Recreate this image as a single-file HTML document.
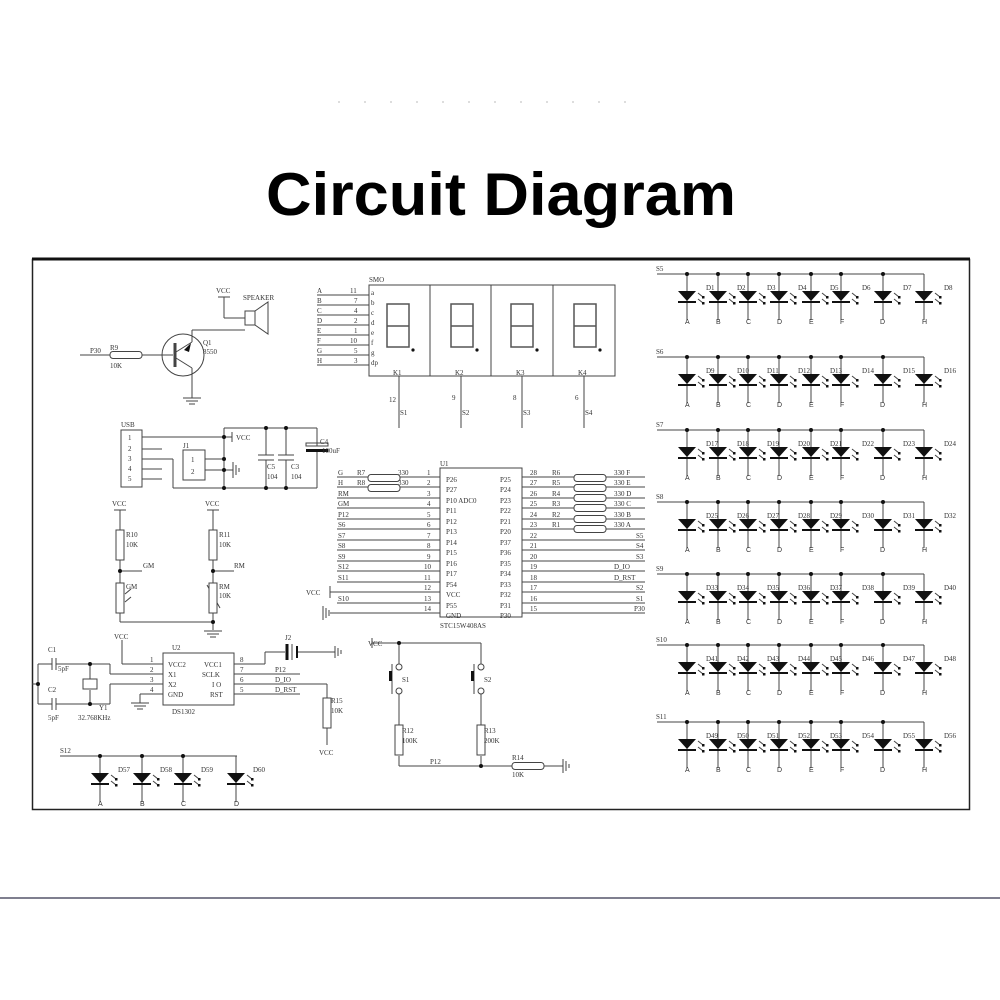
<!DOCTYPE html>
<html><head><meta charset="utf-8"><style>
html,body{margin:0;padding:0;background:#fff;}
svg{display:block;}
.t{font-family:"Liberation Serif",serif;font-size:7px;fill:#333;}
.s{font-family:"Liberation Sans",sans-serif;font-size:7px;fill:#333;}
</style></head><body>
<svg width="1000" height="1000" viewBox="0 0 1000 1000" xmlns="http://www.w3.org/2000/svg">
<defs>
<g id="led">
 <line x1="0" y1="0" x2="0" y2="46" stroke="#444" stroke-width="1"/>
 <polygon points="-9,17 9,17 0,27" fill="#111"/>
 <line x1="-9" y1="28" x2="9" y2="28" stroke="#111" stroke-width="2"/>
 <line x1="11" y1="19" x2="16" y2="23" stroke="#444"/><rect x="15" y="22" width="2.5" height="2.5" fill="#111"/>
 <line x1="11" y1="25" x2="16" y2="29" stroke="#444"/><rect x="15" y="28" width="2.5" height="2.5" fill="#111"/>
</g>
<g id="ledrow">
 <line x1="0" y1="0" x2="267" y2="0" stroke="#444"/>
 <line x1="267" y1="0" x2="267" y2="6" stroke="#444"/>
 <use href="#led" x="30" y="0"/><use href="#led" x="61" y="0"/><use href="#led" x="91" y="0"/><use href="#led" x="122" y="0"/>
 <use href="#led" x="154" y="0"/><use href="#led" x="184" y="0"/><use href="#led" x="226" y="0"/><use href="#led" x="267" y="0"/>
 <g fill="#111"><circle cx="30" cy="0" r="2"/><circle cx="61" cy="0" r="2"/><circle cx="91" cy="0" r="2"/><circle cx="122" cy="0" r="2"/><circle cx="154" cy="0" r="2"/><circle cx="184" cy="0" r="2"/><circle cx="226" cy="0" r="2"/></g>
</g>
<g id="gnd"><line x1="-9" y1="0" x2="9" y2="0" stroke="#444"/><line x1="-6" y1="3" x2="6" y2="3" stroke="#444"/><line x1="-3" y1="6" x2="3" y2="6" stroke="#444"/></g>
<g id="rv"><rect x="-4" y="0" width="8" height="30" fill="#fff" stroke="#444"/></g>
<g id="rh"><rect x="0" y="-3.5" width="32" height="7" rx="3" fill="#fff" stroke="#444"/></g>
<g id="digit"><rect x="0" y="0" width="22" height="43" fill="none" stroke="#555" stroke-width="1.5"/><line x1="0" y1="22" x2="22" y2="22" stroke="#555" stroke-width="1.5"/><circle cx="26" cy="46" r="1.6" fill="#111"/></g>
</defs>

<!-- faint dots -->
<g fill="#ddd"><rect x="338" y="101" width="2" height="2"/><rect x="364" y="101" width="2" height="2"/><rect x="390" y="101" width="2" height="2"/><rect x="416" y="101" width="2" height="2"/><rect x="442" y="101" width="2" height="2"/><rect x="468" y="101" width="2" height="2"/><rect x="494" y="101" width="2" height="2"/><rect x="520" y="101" width="2" height="2"/><rect x="546" y="101" width="2" height="2"/><rect x="572" y="101" width="2" height="2"/><rect x="598" y="101" width="2" height="2"/><rect x="624" y="101" width="2" height="2"/></g>

<text x="501" y="215" text-anchor="middle" font-family="Liberation Sans, sans-serif" font-weight="bold" font-size="60" textLength="470" lengthAdjust="spacingAndGlyphs" fill="#000">Circuit Diagram</text>

<!-- frame -->
<rect x="32.5" y="259.5" width="937" height="550" fill="none" stroke="#222" stroke-width="1.5"/>
<line x1="32" y1="259" x2="970" y2="259" stroke="#111" stroke-width="3"/>
<line x1="0" y1="898" x2="1000" y2="898" stroke="#55556a" stroke-width="1.5"/>

<g stroke="#444" fill="none">
<!-- speaker / transistor -->
<line x1="224" y1="297" x2="224" y2="318"/><line x1="218" y1="297" x2="230" y2="297"/>
<line x1="224" y1="318" x2="245" y2="318"/>
<rect x="245" y="311" width="10" height="14"/><polygon points="255,311 268,302 268,334 255,325"/>
<line x1="192" y1="330" x2="245" y2="330"/><line x1="192" y1="330" x2="192" y2="342"/>
<circle cx="183" cy="355" r="21"/>
<line x1="175" y1="343" x2="175" y2="367" stroke-width="3"/>
<line x1="176" y1="352" x2="192" y2="342"/><line x1="176" y1="358" x2="192" y2="368"/>
<line x1="80" y1="355" x2="110" y2="355"/><use href="#rh" x="110" y="355"/><line x1="142" y1="355" x2="173" y2="355"/>
<line x1="192" y1="368" x2="192" y2="398"/>
</g>
<polygon points="184,350 191,343 189,352" fill="#111"/>
<use href="#gnd" x="192" y="398"/>
<text class="t" x="216" y="293">VCC</text><text class="t" x="243" y="300">SPEAKER</text>
<text class="t" x="203" y="345">Q1</text><text class="t" x="203" y="354">8550</text>
<text class="t" x="90" y="353">P30</text><text class="t" x="110" y="350">R9</text><text class="t" x="110" y="368">10K</text>

<!-- USB section -->
<g stroke="#444" fill="none">
<rect x="121" y="430" width="21" height="57"/>
<line x1="142" y1="437" x2="224" y2="437"/><line x1="142" y1="449" x2="162" y2="449"/>
<line x1="142" y1="459" x2="173" y2="459"/><line x1="173" y1="459" x2="173" y2="488"/>
<line x1="142" y1="469" x2="162" y2="469"/><line x1="142" y1="479" x2="162" y2="479"/>
<rect x="183" y="450" width="22" height="30"/>
<line x1="205" y1="459" x2="224" y2="459"/><line x1="205" y1="470" x2="224" y2="470"/>
<line x1="224" y1="428" x2="224" y2="488"/>
<line x1="224" y1="428" x2="317" y2="428"/><line x1="173" y1="488" x2="317" y2="488"/>
<line x1="317" y1="428" x2="317" y2="446"/><line x1="317" y1="452" x2="317" y2="488"/>
<line x1="266" y1="428" x2="266" y2="455"/><line x1="266" y1="460" x2="266" y2="488"/>
<line x1="286" y1="428" x2="286" y2="455"/><line x1="286" y1="460" x2="286" y2="488"/>
<line x1="258" y1="455" x2="274" y2="455"/><line x1="258" y1="460" x2="274" y2="460"/>
<line x1="278" y1="455" x2="294" y2="455"/><line x1="278" y1="460" x2="294" y2="460"/>
<rect x="306" y="443" width="22" height="3"/>
<line x1="232" y1="432" x2="232" y2="442"/><line x1="224" y1="437" x2="232" y2="437"/>
<line x1="224" y1="470" x2="233" y2="470"/><line x1="233" y1="462" x2="233" y2="478"/><line x1="236" y1="465" x2="236" y2="475"/><line x1="239" y1="468" x2="239" y2="472"/>
</g>
<rect x="306" y="449" width="22" height="3" fill="#111"/>
<g fill="#111"><circle cx="224" cy="437" r="2"/><circle cx="224" cy="459" r="2"/><circle cx="224" cy="470" r="2"/><circle cx="224" cy="488" r="2"/><circle cx="266" cy="428" r="2"/><circle cx="286" cy="428" r="2"/><circle cx="266" cy="488" r="2"/><circle cx="286" cy="488" r="2"/></g>
<text class="t" x="121" y="427">USB</text>
<text class="t" x="128" y="440">1</text><text class="t" x="128" y="451">2</text><text class="t" x="128" y="461">3</text><text class="t" x="128" y="471">4</text><text class="t" x="128" y="481">5</text>
<text class="t" x="183" y="448">J1</text><text class="t" x="191" y="462">1</text><text class="t" x="191" y="474">2</text>
<text class="t" x="236" y="440">VCC</text><text class="t" x="267" y="469">C5</text><text class="t" x="267" y="479">104</text>
<text class="t" x="291" y="469">C3</text><text class="t" x="291" y="479">104</text>
<text class="t" x="320" y="444">C4</text><text class="t" x="322" y="453">100uF</text>

<!-- R10 R11 GM RM -->
<g stroke="#444" fill="none">
<line x1="114" y1="510" x2="126" y2="510"/><line x1="120" y1="510" x2="120" y2="530"/>
<line x1="207" y1="510" x2="219" y2="510"/><line x1="213" y1="510" x2="213" y2="530"/>
<line x1="120" y1="560" x2="120" y2="583"/><line x1="213" y1="560" x2="213" y2="583"/>
<line x1="120" y1="571" x2="142" y2="571"/><line x1="213" y1="571" x2="234" y2="571"/>
<line x1="120" y1="613" x2="120" y2="622"/><line x1="213" y1="613" x2="213" y2="630"/>
<line x1="120" y1="622" x2="213" y2="622"/>
<line x1="207" y1="585" x2="220" y2="608"/>
<line x1="125" y1="594" x2="131" y2="589"/><line x1="125" y1="602" x2="131" y2="597"/>
</g>
<use href="#rv" x="120" y="530"/><use href="#rv" x="213" y="530"/>
<use href="#rv" x="120" y="583"/><use href="#rv" x="213" y="583"/>
<g fill="#111"><circle cx="120" cy="571" r="2"/><circle cx="213" cy="571" r="2"/><circle cx="213" cy="622" r="2"/></g>
<use href="#gnd" x="213" y="631"/>
<text class="t" x="112" y="506">VCC</text><text class="t" x="205" y="506">VCC</text>
<text class="t" x="126" y="537">R10</text><text class="t" x="126" y="547">10K</text>
<text class="t" x="219" y="537">R11</text><text class="t" x="219" y="547">10K</text>
<text class="t" x="143" y="568">GM</text><text class="t" x="234" y="568">RM</text>
<text class="t" x="126" y="589">GM</text><text class="t" x="219" y="589">RM</text><text class="t" x="219" y="598">10K</text>

<!-- DS1302 -->
<g stroke="#444" fill="none">
<rect x="163" y="653" width="71" height="52"/>
<line x1="122" y1="640" x2="122" y2="664"/><line x1="122" y1="664" x2="163" y2="664"/>
<line x1="38" y1="664" x2="52" y2="664"/><line x1="56" y1="664" x2="90" y2="664"/>
<line x1="52" y1="658" x2="52" y2="670"/><line x1="56" y1="658" x2="56" y2="670"/>
<line x1="38" y1="704" x2="52" y2="704"/><line x1="56" y1="704" x2="90" y2="704"/>
<line x1="52" y1="698" x2="52" y2="710"/><line x1="56" y1="698" x2="56" y2="710"/>
<line x1="38" y1="664" x2="38" y2="704"/><line x1="32" y1="684" x2="38" y2="684"/>
<line x1="90" y1="664" x2="90" y2="679"/><line x1="90" y1="690" x2="90" y2="704"/>
<rect x="83" y="679" width="14" height="10"/>
<line x1="90" y1="664" x2="110" y2="664"/><line x1="110" y1="664" x2="110" y2="674"/><line x1="110" y1="674" x2="163" y2="674"/>
<line x1="90" y1="704" x2="110" y2="704"/><line x1="110" y1="704" x2="110" y2="684"/><line x1="110" y1="684" x2="163" y2="684"/>
<line x1="140" y1="694" x2="163" y2="694"/><line x1="140" y1="694" x2="140" y2="703"/>
<line x1="234" y1="664" x2="265" y2="664"/><line x1="265" y1="664" x2="265" y2="652"/><line x1="265" y1="652" x2="285" y2="652"/>
<line x1="298" y1="652" x2="335" y2="652"/>
<line x1="234" y1="674" x2="300" y2="674"/><line x1="234" y1="684" x2="327" y2="684"/><line x1="234" y1="694" x2="300" y2="694"/>
<line x1="327" y1="684" x2="327" y2="698"/><line x1="327" y1="728" x2="327" y2="745"/>
<line x1="335" y1="646" x2="335" y2="658"/><line x1="338" y1="648" x2="338" y2="656"/><line x1="341" y1="650" x2="341" y2="654"/>
</g>
<line x1="287" y1="644" x2="287" y2="660" stroke="#111" stroke-width="3"/><line x1="292" y1="644" x2="292" y2="660" stroke="#444"/><line x1="297" y1="646" x2="297" y2="658" stroke="#111" stroke-width="2"/>
<use href="#rv" x="327" y="698"/>
<use href="#gnd" x="140" y="703"/>
<g fill="#111"><circle cx="38" cy="684" r="2"/><circle cx="90" cy="664" r="2"/><circle cx="90" cy="704" r="2"/></g>
<text class="t" x="114" y="639">VCC</text><text class="t" x="48" y="652">C1</text><text class="t" x="58" y="671">5pF</text>
<text class="t" x="48" y="692">C2</text><text class="t" x="48" y="720">5pF</text>
<text class="t" x="99" y="710">Y1</text><text class="t" x="78" y="720">32.768KHz</text>
<text class="t" x="172" y="650">U2</text><text class="t" x="172" y="714">DS1302</text>
<text class="t" x="150" y="662">1</text><text class="t" x="150" y="672">2</text><text class="t" x="150" y="682">3</text><text class="t" x="150" y="692">4</text>
<text class="t" x="168" y="667">VCC2</text><text class="t" x="168" y="677">X1</text><text class="t" x="168" y="687">X2</text><text class="t" x="168" y="697">GND</text>
<text class="t" x="204" y="667">VCC1</text><text class="t" x="202" y="677">SCLK</text><text class="t" x="212" y="687">I O</text><text class="t" x="210" y="697">RST</text>
<text class="t" x="240" y="662">8</text><text class="t" x="240" y="672">7</text><text class="t" x="240" y="682">6</text><text class="t" x="240" y="692">5</text>
<text class="t" x="285" y="640">J2</text><text class="t" x="275" y="672">P12</text><text class="t" x="275" y="682">D_IO</text><text class="t" x="275" y="692">D_RST</text>
<text class="t" x="331" y="703">R15</text><text class="t" x="331" y="713">10K</text><text class="t" x="319" y="755">VCC</text>

<!-- S12 LEDs -->
<g stroke="#444"><line x1="60" y1="756" x2="237" y2="756"/></g>
<use href="#led" x="100" y="756"/><use href="#led" x="142" y="756"/><use href="#led" x="183" y="756"/><use href="#led" x="236" y="756"/>
<g fill="#111"><circle cx="100" cy="756" r="2"/><circle cx="142" cy="756" r="2"/><circle cx="183" cy="756" r="2"/></g>
<text class="t" x="60" y="753">S12</text>
<text class="t" x="118" y="772">D57</text><text class="t" x="160" y="772">D58</text><text class="t" x="201" y="772">D59</text><text class="t" x="253" y="772">D60</text>
<text class="s" x="98" y="806">A</text><text class="s" x="140" y="806">B</text><text class="s" x="181" y="806">C</text><text class="s" x="234" y="806">D</text>

<!-- switches -->
<g stroke="#444" fill="none">
<line x1="372" y1="643" x2="481" y2="643"/><line x1="372" y1="638" x2="372" y2="648"/>
<line x1="399" y1="643" x2="399" y2="664"/><line x1="481" y1="643" x2="481" y2="664"/>
<circle cx="399" cy="667" r="3"/><circle cx="399" cy="691" r="3"/>
<circle cx="481" cy="667" r="3"/><circle cx="481" cy="691" r="3"/>
<line x1="392" y1="664" x2="392" y2="694"/><line x1="474" y1="664" x2="474" y2="694"/>
<line x1="399" y1="694" x2="399" y2="725"/><line x1="481" y1="694" x2="481" y2="725"/>
<line x1="399" y1="756" x2="399" y2="766"/><line x1="481" y1="756" x2="481" y2="766"/>
<line x1="399" y1="766" x2="512" y2="766"/><line x1="544" y1="766" x2="563" y2="766"/>
<line x1="563" y1="759" x2="563" y2="773"/><line x1="566" y1="761" x2="566" y2="771"/><line x1="569" y1="764" x2="569" y2="768"/>
</g>
<rect x="389" y="671" width="3" height="10" fill="#111"/><rect x="471" y="671" width="3" height="10" fill="#111"/>
<use href="#rv" x="399" y="725"/><use href="#rv" x="481" y="725"/><use href="#rh" x="512" y="766"/>
<g fill="#111"><circle cx="399" cy="643" r="2"/><circle cx="481" cy="766" r="2"/></g>
<text class="t" x="368" y="646">VCC</text><text class="t" x="402" y="682">S1</text><text class="t" x="484" y="682">S2</text>
<text class="t" x="402" y="733">R12</text><text class="t" x="402" y="743">100K</text>
<text class="t" x="484" y="733">R13</text><text class="t" x="484" y="743">200K</text>
<text class="t" x="430" y="764">P12</text><text class="t" x="512" y="760">R14</text><text class="t" x="512" y="777">10K</text>

<!-- 7-seg display -->
<g stroke="#444" fill="none">
<rect x="369" y="285" width="246" height="91"/>
<line x1="430" y1="285" x2="430" y2="376"/><line x1="491" y1="285" x2="491" y2="376"/><line x1="553" y1="285" x2="553" y2="376"/>
<line x1="317" y1="295" x2="369" y2="295"/><line x1="317" y1="305" x2="369" y2="305"/><line x1="317" y1="315" x2="369" y2="315"/><line x1="317" y1="325" x2="369" y2="325"/>
<line x1="317" y1="335" x2="369" y2="335"/><line x1="317" y1="345" x2="369" y2="345"/><line x1="317" y1="355" x2="369" y2="355"/><line x1="317" y1="365" x2="369" y2="365"/>
<line x1="399" y1="376" x2="399" y2="428"/><line x1="461" y1="376" x2="461" y2="428"/><line x1="522" y1="376" x2="522" y2="428"/><line x1="584" y1="376" x2="584" y2="428"/>
</g>
<use href="#digit" x="387" y="304"/><use href="#digit" x="451" y="304"/><use href="#digit" x="511" y="304"/><use href="#digit" x="574" y="304"/>
<text class="t" x="369" y="282">SMO</text>
<text class="t" x="317" y="293">A</text><text class="t" x="317" y="303">B</text><text class="t" x="317" y="313">C</text><text class="t" x="317" y="323">D</text><text class="t" x="317" y="333">E</text><text class="t" x="317" y="343">F</text><text class="t" x="317" y="353">G</text><text class="t" x="317" y="363">H</text>
<text class="t" x="350" y="293">11</text><text class="t" x="354" y="303">7</text><text class="t" x="354" y="313">4</text><text class="t" x="354" y="323">2</text><text class="t" x="354" y="333">1</text><text class="t" x="350" y="343">10</text><text class="t" x="354" y="353">5</text><text class="t" x="354" y="363">3</text>
<text class="t" x="371" y="295">a</text><text class="t" x="371" y="305">b</text><text class="t" x="371" y="315">c</text><text class="t" x="371" y="325">d</text><text class="t" x="371" y="335">e</text><text class="t" x="371" y="345">f</text><text class="t" x="371" y="355">g</text><text class="t" x="371" y="365">dp</text>
<text class="t" x="393" y="375">K1</text><text class="t" x="455" y="375">K2</text><text class="t" x="516" y="375">K3</text><text class="t" x="578" y="375">K4</text>
<text class="t" x="389" y="402">12</text><text class="t" x="452" y="400">9</text><text class="t" x="513" y="400">8</text><text class="t" x="575" y="400">6</text>
<text class="t" x="400" y="415">S1</text><text class="t" x="462" y="415">S2</text><text class="t" x="523" y="415">S3</text><text class="t" x="585" y="415">S4</text>

<!-- U1 -->
<g stroke="#444" fill="none">
<rect x="440" y="468" width="82" height="149"/>
<line x1="337" y1="477" x2="440" y2="477"/><line x1="337" y1="487" x2="440" y2="487"/><line x1="337" y1="498" x2="440" y2="498"/><line x1="337" y1="508" x2="440" y2="508"/>
<line x1="337" y1="519" x2="440" y2="519"/><line x1="337" y1="529" x2="440" y2="529"/><line x1="337" y1="540" x2="440" y2="540"/><line x1="337" y1="550" x2="440" y2="550"/>
<line x1="337" y1="561" x2="440" y2="561"/><line x1="337" y1="571" x2="440" y2="571"/><line x1="337" y1="582" x2="440" y2="582"/><line x1="330" y1="592" x2="440" y2="592"/>
<line x1="337" y1="603" x2="440" y2="603"/><line x1="330" y1="613" x2="440" y2="613"/>
<line x1="522" y1="477" x2="645" y2="477"/><line x1="522" y1="487" x2="645" y2="487"/><line x1="522" y1="498" x2="645" y2="498"/><line x1="522" y1="508" x2="645" y2="508"/>
<line x1="522" y1="519" x2="645" y2="519"/><line x1="522" y1="529" x2="645" y2="529"/><line x1="522" y1="540" x2="645" y2="540"/><line x1="522" y1="550" x2="645" y2="550"/>
<line x1="522" y1="561" x2="645" y2="561"/><line x1="522" y1="571" x2="645" y2="571"/><line x1="522" y1="582" x2="645" y2="582"/><line x1="522" y1="592" x2="645" y2="592"/>
<line x1="522" y1="603" x2="645" y2="603"/><line x1="522" y1="613" x2="645" y2="613"/>
<line x1="330" y1="586" x2="330" y2="598"/>
<line x1="323" y1="606" x2="323" y2="620"/><line x1="326" y1="608" x2="326" y2="618"/><line x1="329" y1="610" x2="329" y2="616"/>
</g>
<use href="#rh" x="368" y="478"/><use href="#rh" x="368" y="488"/>
<use href="#rh" x="574" y="478"/><use href="#rh" x="574" y="488"/><use href="#rh" x="574" y="498"/><use href="#rh" x="574" y="508"/><use href="#rh" x="574" y="519"/><use href="#rh" x="574" y="529"/>
<text class="t" x="440" y="466">U1</text><text class="t" x="440" y="628">STC15W408AS</text>
<g class="t">
<text class="t" x="338" y="475">G</text><text class="t" x="357" y="475">R7</text><text class="t" x="398" y="475">330</text>
<text class="t" x="338" y="485">H</text><text class="t" x="357" y="485">R8</text><text class="t" x="398" y="485">330</text>
<text class="t" x="338" y="496">RM</text><text class="t" x="338" y="506">GM</text><text class="t" x="338" y="517">P12</text><text class="t" x="338" y="527">S6</text><text class="t" x="338" y="538">S7</text><text class="t" x="338" y="548">S8</text><text class="t" x="338" y="559">S9</text><text class="t" x="338" y="569">S12</text><text class="t" x="338" y="580">S11</text><text class="t" x="338" y="601">S10</text>
<text class="t" x="306" y="595">VCC</text>
<text class="t" x="427" y="475">1</text><text class="t" x="427" y="485">2</text><text class="t" x="427" y="496">3</text><text class="t" x="427" y="506">4</text><text class="t" x="427" y="517">5</text><text class="t" x="427" y="527">6</text><text class="t" x="427" y="538">7</text><text class="t" x="427" y="548">8</text><text class="t" x="427" y="559">9</text><text class="t" x="424" y="569">10</text><text class="t" x="424" y="580">11</text><text class="t" x="424" y="590">12</text><text class="t" x="424" y="601">13</text><text class="t" x="424" y="611">14</text>
<text class="t" x="446" y="482">P26</text><text class="t" x="446" y="492">P27</text><text class="t" x="446" y="503">P10 ADC0</text><text class="t" x="446" y="513">P11</text><text class="t" x="446" y="524">P12</text><text class="t" x="446" y="534">P13</text><text class="t" x="446" y="545">P14</text><text class="t" x="446" y="555">P15</text><text class="t" x="446" y="566">P16</text><text class="t" x="446" y="576">P17</text><text class="t" x="446" y="587">P54</text><text class="t" x="446" y="597">VCC</text><text class="t" x="446" y="608">P55</text><text class="t" x="446" y="618">GND</text>
<text class="t" x="500" y="482">P25</text><text class="t" x="500" y="492">P24</text><text class="t" x="500" y="503">P23</text><text class="t" x="500" y="513">P22</text><text class="t" x="500" y="524">P21</text><text class="t" x="500" y="534">P20</text><text class="t" x="500" y="545">P37</text><text class="t" x="500" y="555">P36</text><text class="t" x="500" y="566">P35</text><text class="t" x="500" y="576">P34</text><text class="t" x="500" y="587">P33</text><text class="t" x="500" y="597">P32</text><text class="t" x="500" y="608">P31</text><text class="t" x="500" y="618">P30</text>
<text class="t" x="530" y="475">28</text><text class="t" x="530" y="485">27</text><text class="t" x="530" y="496">26</text><text class="t" x="530" y="506">25</text><text class="t" x="530" y="517">24</text><text class="t" x="530" y="527">23</text><text class="t" x="530" y="538">22</text><text class="t" x="530" y="548">21</text><text class="t" x="530" y="559">20</text><text class="t" x="530" y="569">19</text><text class="t" x="530" y="580">18</text><text class="t" x="530" y="590">17</text><text class="t" x="530" y="601">16</text><text class="t" x="530" y="611">15</text>
<text class="t" x="552" y="475">R6</text><text class="t" x="552" y="485">R5</text><text class="t" x="552" y="496">R4</text><text class="t" x="552" y="506">R3</text><text class="t" x="552" y="517">R2</text><text class="t" x="552" y="527">R1</text>
<text class="t" x="614" y="475">330 F</text><text class="t" x="614" y="485">330 E</text><text class="t" x="614" y="496">330 D</text><text class="t" x="614" y="506">330 C</text><text class="t" x="614" y="517">330 B</text><text class="t" x="614" y="527">330 A</text>
<text class="t" x="636" y="538">S5</text><text class="t" x="636" y="548">S4</text><text class="t" x="636" y="559">S3</text><text class="t" x="614" y="569">D_IO</text><text class="t" x="614" y="580">D_RST</text><text class="t" x="636" y="590">S2</text><text class="t" x="636" y="601">S1</text><text class="t" x="634" y="611">P30</text>
</g>

<!-- LED matrix -->
<use href="#ledrow" x="657" y="274"/><use href="#ledrow" x="657" y="357"/><use href="#ledrow" x="657" y="430"/><use href="#ledrow" x="657" y="502"/>
<use href="#ledrow" x="657" y="574"/><use href="#ledrow" x="657" y="645"/><use href="#ledrow" x="657" y="722"/>
<text class="t" x="656" y="271">S5</text><text class="t" x="656" y="354">S6</text><text class="t" x="656" y="427">S7</text><text class="t" x="656" y="499">S8</text><text class="t" x="656" y="571">S9</text><text class="t" x="656" y="642">S10</text><text class="t" x="656" y="719">S11</text>

<g class="t">
<text class="t" x="706" y="290">D1</text><text class="t" x="737" y="290">D2</text><text class="t" x="767" y="290">D3</text><text class="t" x="798" y="290">D4</text><text class="t" x="830" y="290">D5</text><text class="t" x="862" y="290">D6</text><text class="t" x="903" y="290">D7</text><text class="t" x="944" y="290">D8</text>
<text class="t" x="706" y="373">D9</text><text class="t" x="737" y="373">D10</text><text class="t" x="767" y="373">D11</text><text class="t" x="798" y="373">D12</text><text class="t" x="830" y="373">D13</text><text class="t" x="862" y="373">D14</text><text class="t" x="903" y="373">D15</text><text class="t" x="944" y="373">D16</text>
<text class="t" x="706" y="446">D17</text><text class="t" x="737" y="446">D18</text><text class="t" x="767" y="446">D19</text><text class="t" x="798" y="446">D20</text><text class="t" x="830" y="446">D21</text><text class="t" x="862" y="446">D22</text><text class="t" x="903" y="446">D23</text><text class="t" x="944" y="446">D24</text>
<text class="t" x="706" y="518">D25</text><text class="t" x="737" y="518">D26</text><text class="t" x="767" y="518">D27</text><text class="t" x="798" y="518">D28</text><text class="t" x="830" y="518">D29</text><text class="t" x="862" y="518">D30</text><text class="t" x="903" y="518">D31</text><text class="t" x="944" y="518">D32</text>
<text class="t" x="706" y="590">D33</text><text class="t" x="737" y="590">D34</text><text class="t" x="767" y="590">D35</text><text class="t" x="798" y="590">D36</text><text class="t" x="830" y="590">D37</text><text class="t" x="862" y="590">D38</text><text class="t" x="903" y="590">D39</text><text class="t" x="944" y="590">D40</text>
<text class="t" x="706" y="661">D41</text><text class="t" x="737" y="661">D42</text><text class="t" x="767" y="661">D43</text><text class="t" x="798" y="661">D44</text><text class="t" x="830" y="661">D45</text><text class="t" x="862" y="661">D46</text><text class="t" x="903" y="661">D47</text><text class="t" x="944" y="661">D48</text>
<text class="t" x="706" y="738">D49</text><text class="t" x="737" y="738">D50</text><text class="t" x="767" y="738">D51</text><text class="t" x="798" y="738">D52</text><text class="t" x="830" y="738">D53</text><text class="t" x="862" y="738">D54</text><text class="t" x="903" y="738">D55</text><text class="t" x="944" y="738">D56</text>
</g>
<g class="s">
<text class="s" x="685" y="324">A</text><text class="s" x="716" y="324">B</text><text class="s" x="746" y="324">C</text><text class="s" x="777" y="324">D</text><text class="s" x="809" y="324">E</text><text class="s" x="840" y="324">F</text><text class="s" x="880" y="324">D</text><text class="s" x="922" y="324">H</text>
<text class="s" x="685" y="407">A</text><text class="s" x="716" y="407">B</text><text class="s" x="746" y="407">C</text><text class="s" x="777" y="407">D</text><text class="s" x="809" y="407">E</text><text class="s" x="840" y="407">F</text><text class="s" x="880" y="407">D</text><text class="s" x="922" y="407">H</text>
<text class="s" x="685" y="480">A</text><text class="s" x="716" y="480">B</text><text class="s" x="746" y="480">C</text><text class="s" x="777" y="480">D</text><text class="s" x="809" y="480">E</text><text class="s" x="840" y="480">F</text><text class="s" x="880" y="480">D</text><text class="s" x="922" y="480">H</text>
<text class="s" x="685" y="552">A</text><text class="s" x="716" y="552">B</text><text class="s" x="746" y="552">C</text><text class="s" x="777" y="552">D</text><text class="s" x="809" y="552">E</text><text class="s" x="840" y="552">F</text><text class="s" x="880" y="552">D</text><text class="s" x="922" y="552">H</text>
<text class="s" x="685" y="624">A</text><text class="s" x="716" y="624">B</text><text class="s" x="746" y="624">C</text><text class="s" x="777" y="624">D</text><text class="s" x="809" y="624">E</text><text class="s" x="840" y="624">F</text><text class="s" x="880" y="624">D</text><text class="s" x="922" y="624">H</text>
<text class="s" x="685" y="695">A</text><text class="s" x="716" y="695">B</text><text class="s" x="746" y="695">C</text><text class="s" x="777" y="695">D</text><text class="s" x="809" y="695">E</text><text class="s" x="840" y="695">F</text><text class="s" x="880" y="695">D</text><text class="s" x="922" y="695">H</text>
<text class="s" x="685" y="772">A</text><text class="s" x="716" y="772">B</text><text class="s" x="746" y="772">C</text><text class="s" x="777" y="772">D</text><text class="s" x="809" y="772">E</text><text class="s" x="840" y="772">F</text><text class="s" x="880" y="772">D</text><text class="s" x="922" y="772">H</text>
</g>
</svg>
</body></html>
